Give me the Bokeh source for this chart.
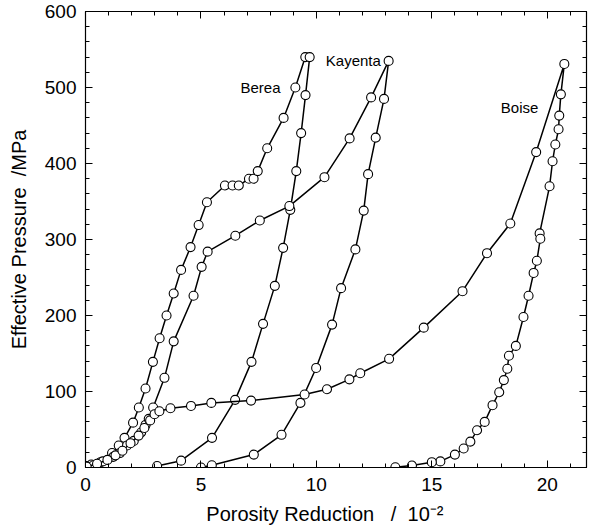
from bokeh.plotting import figure
from bokeh.models import Range1d, LinearAxis, SingleIntervalTicker, Label
from bokeh.embed import file_html
from bokeh.resources import INLINE

# ---- data (porosity reduction /1e-2, effective pressure /MPa) ----
berea_x = [0.04, 0.25, 0.65, 1.15, 1.44, 1.69, 2.06, 2.31, 2.60, 2.92, 3.21, 3.51, 3.82, 4.14,
           4.55, 4.90, 5.26, 6.04, 6.37, 6.64, 7.08, 7.28, 7.46, 7.87, 8.58, 9.09, 9.52,
           9.71, 9.53, 9.34, 9.13, 8.87, 8.56, 8.20, 7.69, 7.19, 6.48, 5.48, 4.14, 3.10]
berea_y = [1, 4, 7, 19, 29, 39, 59, 79, 104, 139, 170, 200, 229, 260,
           290, 319, 349, 371, 371, 371, 380, 380, 390, 420, 460, 500, 540,
           540, 490, 440, 390, 339, 289, 239, 189, 139, 89, 39, 9, 2]

kayenta_x = [0.05, 0.35, 0.75, 1.20, 1.49, 1.80, 2.09, 2.41, 2.60, 2.74, 2.93, 3.42, 3.82,
             4.68, 5.03, 5.29, 6.49, 7.55, 8.83, 10.35, 11.44, 12.37, 13.13,
             12.93, 12.57, 12.24, 12.05, 11.69, 11.07, 10.68, 9.99, 9.31, 8.49, 7.29, 5.47, 5.00]
kayenta_y = [2, 3, 8, 14, 19, 29, 35, 46, 56, 64, 79, 118, 166,
             226, 264, 284, 305, 325, 344, 382, 433, 487, 535,
             485, 434, 386, 338, 287, 236, 188, 131, 85, 43, 17, 3, 0]

boise_x = [0.05, 0.50, 0.95, 1.30, 1.60, 1.95, 2.30, 2.55, 2.80, 2.99, 3.20, 3.68, 4.57, 5.45,
           7.17, 9.49, 10.46, 11.43, 11.90, 13.15, 14.65, 16.33, 17.39, 18.40, 19.52, 20.74,
           20.59, 20.52, 20.49, 20.35, 20.23, 20.10, 19.67, 19.70, 19.55, 19.41, 19.19, 18.97,
           18.64, 18.34, 18.27, 18.12, 17.92, 17.63, 17.29, 16.96, 16.67, 16.38, 16.00, 15.37,
           15.00, 14.14, 13.42]
boise_y = [1, 5, 10, 16, 22, 32, 42, 52, 62, 70, 74, 78, 81, 85,
           88, 96, 103, 116, 124, 143, 184, 232, 282, 321, 415, 531,
           491, 463, 445, 425, 403, 370, 308, 301, 272, 256, 226, 198,
           160, 147, 130, 115, 99, 82, 60, 49, 34, 25, 17, 8,
           7, 2.6, 0.4]

names = ["Berea", "Kayenta", "Boise"]
name_x = [7.58, 11.6, 18.8]
name_y = [500, 535, 474]

FONT = "Liberation Sans"
NB = "\u00a0"

p = figure(width=593, height=527, output_backend="svg", toolbar_location=None,
           x_range=Range1d(0, 21.7), y_range=Range1d(0, 600),
           min_border_left=85, min_border_right=7, min_border_top=11, min_border_bottom=60)
p.background_fill_color = "white"
p.border_fill_color = "white"
p.outline_line_color = "black"
p.outline_line_width = 1.2
p.grid.visible = False

xt = SingleIntervalTicker(interval=5, num_minor_ticks=5)
yt = SingleIntervalTicker(interval=100, num_minor_ticks=5)

def style(ax, labels=True):
    ax.axis_line_color = "black"
    ax.major_tick_line_color = "black"
    ax.minor_tick_line_color = "black"
    ax.major_tick_in = 7
    ax.major_tick_out = 0
    ax.minor_tick_in = 4
    ax.minor_tick_out = 0
    if labels:
        ax.major_label_text_font = FONT
        ax.major_label_text_font_size = "19px"
        ax.major_label_text_color = "black"
    else:
        ax.major_label_text_font_size = "0px"
        ax.major_label_text_color = None

p.xaxis.ticker = xt
p.yaxis.ticker = yt
style(p.xaxis[0])
style(p.yaxis[0])
p.xaxis.major_label_standoff = 10
p.yaxis.major_label_standoff = 9

p.yaxis.axis_label = "Effective Pressure" + NB + NB + "/MPa"
p.yaxis.axis_label_text_font = FONT
p.yaxis.axis_label_text_font_size = "20px"
p.yaxis.axis_label_text_font_style = "normal"
p.yaxis.axis_label_text_color = "black"
p.yaxis.axis_label_standoff = 12

p.xaxis.axis_label = ("Porosity Reduction" + NB * 3 + "/" + NB * 2 + "10\u207b\u00b2" + NB * 4)
p.xaxis.axis_label_text_font = FONT
p.xaxis.axis_label_text_font_size = "20px"
p.xaxis.axis_label_text_font_style = "normal"
p.xaxis.axis_label_text_color = "black"
p.xaxis.axis_label_standoff = 9

top = LinearAxis(ticker=SingleIntervalTicker(interval=5, num_minor_ticks=5))
style(top, labels=False)
p.add_layout(top, "above")
right = LinearAxis(ticker=SingleIntervalTicker(interval=100, num_minor_ticks=5))
style(right, labels=False)
p.add_layout(right, "right")

for xs, ys in [(berea_x, berea_y), (kayenta_x, kayenta_y), (boise_x, boise_y)]:
    p.line(xs, ys, line_color="black", line_width=1.5)
    p.scatter(xs, ys, marker="circle", size=9, fill_color="white", line_color="black", line_width=1.1)

for n, x, y in zip(names, name_x, name_y):
    p.add_layout(Label(x=x, y=y, text=n, text_font=FONT, text_font_size="15px",
                       text_align="center", text_baseline="middle", text_color="black"))

open("out.html", "w").write(file_html(p, INLINE))
